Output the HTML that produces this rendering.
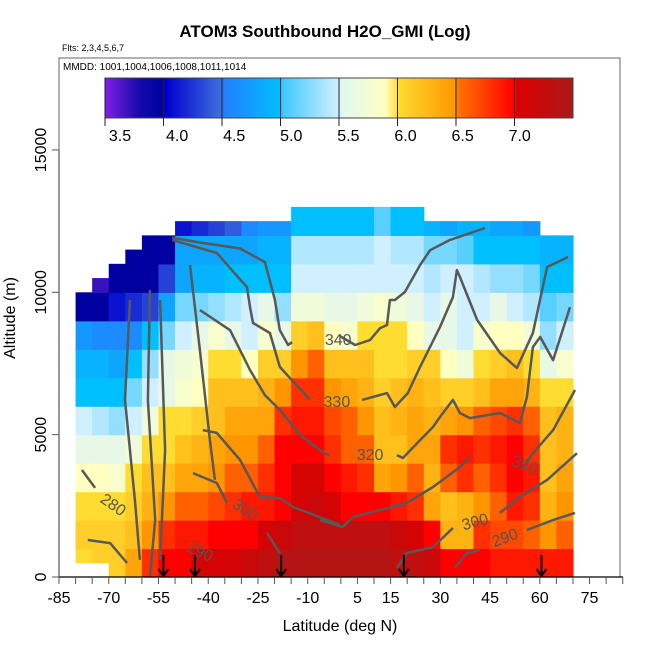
<!DOCTYPE html>
<html><head><meta charset="utf-8"><style>
body{margin:0;background:#fff;}
svg{display:block;font-family:"Liberation Sans",sans-serif;}
</style></head><body>
<svg id="chart" width="650" height="650" viewBox="0 0 650 650">
<text x="325" y="37" text-anchor="middle" font-size="17" font-weight="bold">ATOM3 Southbound H2O_GMI (Log)</text>
<text x="62" y="51" font-size="9">Flts: 2,3,4,5,6,7</text>
<g id="heat"></g>
<g id="contours"></g>
<g id="arrows"></g>
<rect x="59" y="58" width="561" height="519" fill="none" stroke="#666" stroke-width="1"/>
<text x="63" y="70" font-size="10">MMDD: 1001,1004,1006,1008,1011,1014</text>
<g id="cbar"></g>
<g id="axes"></g>
<text x="340" y="631" text-anchor="middle" font-size="16">Latitude (deg N)</text>
<text transform="translate(15,318) rotate(-90)" text-anchor="middle" font-size="16">Altitude (m)</text>
</svg>
<script>
const colStarts = [-80,-75,-70,-65,-60,-55,-50,-45,-40,-35,-30,-25,-20,-15,-10,-5,0,5,10,15,20,25,30,35,40,45,50,55,60,65];
const colTops = [10000,10500,11000,11500,12000,12000,12500,12500,12500,12500,12500,12500,12500,13000,13000,13000,13000,13000,13000,13000,13000,12500,12500,12500,12500,12500,12500,12500,12000,12000];
const colBottoms = [500,500,0,0,0,0,0,0,0,0,0,0,0,0,0,0,0,0,0,0,0,0,0,0,0,0,0,0,0,0];
const h2oValues = [
[6.0,6.1,6.0,5.9,5.6,5.5,5.0,4.9,4.7,4.0],
[6.1,6.1,6.0,5.9,5.6,5.4,5.0,4.9,4.6,4.0,3.7],
[6.1,6.1,6.0,5.8,5.6,5.3,5.0,4.8,4.6,4.1,4.0],
[6.4,6.2,6.1,6.0,5.7,5.5,5.2,5.0,4.6,4.2,4.0,4.0],
[6.8,6.5,6.3,6.2,6.0,5.7,5.5,5.3,5.0,4.3,4.0,4.0],
[7.0,6.8,6.5,6.2,6.0,6.0,5.6,5.6,5.2,4.8,4.3,4.0],
[7.0,6.9,6.6,6.4,6.2,6.0,5.8,5.7,5.5,5.2,4.8,4.8,4.1],
[7.1,6.9,6.6,6.4,6.3,6.1,5.9,5.8,5.6,5.2,4.9,4.8,4.2],
[7.1,7.0,6.7,6.5,6.4,6.2,6.2,6.0,5.8,5.3,4.9,4.8,4.3],
[7.1,7.0,6.8,6.6,6.5,6.4,6.2,6.0,5.6,5.4,5.0,4.8,4.4],
[7.2,7.0,6.9,6.6,6.5,6.4,6.2,5.9,5.5,5.5,5.0,4.8,4.6],
[7.3,7.1,6.9,6.8,6.6,6.4,6.3,6.1,5.8,5.6,5.0,4.9,4.7],
[7.4,7.2,7.0,7.0,7.0,6.8,6.5,6.1,5.6,5.3,5.0,4.9,4.7],
[7.4,7.3,7.1,7.1,7.0,6.9,6.8,6.5,6.1,5.7,5.5,5.4,5.0],
[7.4,7.3,7.2,7.1,7.0,6.9,6.8,6.6,6.2,5.7,5.5,5.4,5.0],
[7.4,7.3,7.1,7.0,6.8,6.7,6.5,6.2,5.9,5.6,5.5,5.4,5.0],
[7.4,7.3,7.0,6.9,6.6,6.6,6.4,6.2,5.8,5.6,5.5,5.4,5.0],
[7.4,7.3,7.0,6.8,6.6,6.5,6.3,6.2,6.0,5.7,5.5,5.4,5.0],
[7.4,7.3,7.0,6.4,6.2,6.2,6.1,6.0,6.0,5.8,5.5,5.5,5.1],
[7.3,7.2,6.9,6.5,6.2,6.3,6.2,6.0,6.0,5.7,5.5,5.4,5.0],
[7.3,7.1,6.8,6.6,6.4,6.4,6.3,6.1,5.9,5.6,5.5,5.4,5.0],
[7.2,7.0,6.4,6.3,6.4,6.3,6.2,6.1,5.6,5.5,5.4,5.2,4.9],
[7.0,6.3,6.2,6.6,6.8,6.4,6.1,5.9,5.6,5.6,5.5,5.2,4.8],
[7.0,6.3,6.3,6.8,6.9,6.5,6.1,5.7,5.5,5.5,5.5,5.1,4.9],
[7.0,6.8,6.5,6.6,6.8,6.6,6.2,6.0,5.8,5.5,5.4,5.0,4.9],
[6.9,6.7,6.6,6.8,6.9,6.7,6.4,6.1,5.9,5.6,5.3,5.0,4.8],
[6.9,6.7,6.9,7.0,7.0,6.8,6.4,6.2,5.9,5.5,5.3,5.0,4.8],
[6.9,6.6,6.8,6.9,6.8,6.6,6.3,6.0,5.7,5.4,5.2,5.0,4.7],
[6.9,6.5,6.3,6.2,6.2,6.2,6.0,5.6,5.3,5.1,5.0,4.9],
[6.9,6.6,6.5,6.4,6.3,6.3,6.0,5.8,5.5,5.2,5.0,4.9]
];
const xTickLabels = [-85,-70,-55,-40,-25,-10,5,15,30,45,60,75];
const yTickLabels = [0,5000,10000,15000];
const cbarTicks = [3.5,4.0,4.5,5.0,5.5,6.0,6.5,7.0];
const arrowLats = [-53.5,-44,-18,19,60.5];
// theta contour lines as [lat, altitude] pairs
const contourLines = [
 [[-50.9,11920],[-42.5,11750],[-30.4,11540],[-22.9,11060],[-19.9,9730],[-18.4,8670],[-15.9,8150],[-14.7,8250]],
 [[-0.3,8460],[4.3,8150],[8.8,8320],[11.8,8740],[13.9,8850],[14.8,9730],[16.3,9730],[19.3,10010],[23.9,10960],[26.9,11480],[32.9,11840],[43.5,12260]],
 [[-50.9,11840],[-37.4,11380],[-28.3,10180],[-27.4,9480],[-26.5,8920],[-21.4,8570],[-18.4,7380],[-9.3,6220]],
 [[6.4,6220],[13.9,6460],[16.3,5970],[20.2,6460],[23.9,7380],[29.9,8780],[33.8,9830],[35.0,10780],[35.9,10540],[41.1,9030],[48.0,7870],[53.1,7340],[57.9,8570],[62.2,10890],[68.5,11240]],
 [[-42.5,9380],[-33.4,8670],[-27.4,7270],[-22.9,6390],[-18.4,5870],[-12.3,4990],[-6.3,4460],[-3.5,4250]],
 [[16.9,4280],[18.7,4180],[23.9,4810],[27.8,5270],[29.9,5620],[33.8,6220],[35.9,5760],[38.9,5580],[48.0,5760],[54.0,5410],[56.1,6320],[57.9,8080],[60.1,8430],[64.0,7620],[69.1,9480]],
 [[-41.6,5160],[-37.4,5060],[-30.4,4110],[-24.4,2810],[-18.4,2770],[-14.4,2460],[-0.3,1830]],
 [[-6.3,2000],[0.6,1760],[3.7,2110],[11.8,2350],[19.9,2600],[27.8,3160],[35.9,3860],[38.9,4210]],
 [[54.6,3760],[57.9,4350],[64.0,5160],[70.6,6570]],
 [[48.0,2250],[54.0,2810],[62.2,3410],[71.2,4350]],
 [[-44.6,3650],[-37.4,3300],[-34.3,2600]],
 [[-22.3,1550],[-18.4,840]],
 [[34.4,320],[38.0,840],[41.9,950]],
 [[56.1,1650],[64.0,2000],[70.6,2250]],
 [[16.9,320],[19.9,840],[27.8,1050],[33.8,1720]],
 [[-78.1,3760],[-74.1,3130]],
 [[-76.3,1300],[-69.6,1190],[-64.5,490]],
 [[-63.6,9730],[-65.1,6220],[-62.1,2700],[-60.6,600]],
 [[-57.6,10080],[-58.2,6220],[-56.0,2000],[-57.6,0]],
 [[-54.5,9730],[-53.0,4460],[-54.5,600]],
 [[-45.5,10960],[-42.5,7970],[-39.5,4810],[-38.0,3410]]
];
const contourLabels = [
 ["340",-0.8,8320,0],["330",-1.2,6150,0],["320",8.8,4280,0],["310",55.5,3930,20],
 ["300",-28.9,2350,35],["300",40.5,1930,-15],["290",49.5,1370,-20],["290",-42.5,880,25],["280",-68.7,2530,35]
];
const NS='http://www.w3.org/2000/svg';
const xS = lat => 59 + (lat + 85) * 3.316;
const yS = alt => 577 - alt * 0.02847;
const stops = [[3.5,[128,32,232]],[3.8,[20,10,170]],[4.0,[0,0,160]],[4.02,[0,0,205]],[4.5,[64,112,224]],[4.52,[32,128,255]],[5.0,[0,191,255]],[5.02,[64,200,255]],[5.5,[208,240,255]],[5.52,[224,248,240]],[5.9,[255,255,192]],[6.0,[255,220,50]],[6.5,[255,150,0]],[6.52,[255,115,0]],[7.0,[255,0,0]],[7.02,[220,0,0]],[7.5,[170,25,25]]];
function color(v){
  if(v<=stops[0][0]) return 'rgb('+stops[0][1]+')';
  for(let i=1;i<stops.length;i++){
    if(v<=stops[i][0]){const a=stops[i-1],b=stops[i],t=(v-a[0])/(b[0]-a[0]);
      return 'rgb('+a[1].map((c,k)=>Math.round(c+(b[1][k]-c)*t)).join(',')+')';}
  }
  return 'rgb('+stops[stops.length-1][1]+')';
}
function mk(tag,attrs,parent){const e=document.createElementNS(NS,tag);for(const k in attrs)e.setAttribute(k,attrs[k]);parent.appendChild(e);return e;}
const heat=document.getElementById('heat');
colStarts.forEach((lat,i)=>{
  const vals=h2oValues[i];
  vals.forEach((v,r)=>{
    const a0=Math.max(r*1000,colBottoms[i]);
    const a1=Math.min((r+1)*1000,colTops[i]);
    if(a1<=a0) return;
    const x0=xS(lat),x1=xS(lat+5);
    const c=mk('rect',{x:x0.toFixed(2),y:yS(a1).toFixed(2),width:(x1-x0+0.6).toFixed(2),height:(yS(a0)-yS(a1)+0.6).toFixed(2),fill:color(v)},heat);
    
    
  });
});
const cg=document.getElementById('contours');
contourLines.forEach(line=>{
  const p=mk('polyline',{points:line.map(q=>xS(q[0]).toFixed(1)+','+yS(q[1]).toFixed(1)).join(' '),fill:'none',stroke:'#585858','stroke-width':2.5,'stroke-linejoin':'round'},cg);
  
  
});
contourLabels.forEach(l=>{
  const x=xS(l[1]),y=yS(l[2]);
  const t=mk('text',{x:x,y:y+5,'font-size':16,fill:'#555','text-anchor':'middle',transform:'rotate('+l[3]+' '+x+' '+y+')'},cg);
  t.textContent=l[0];
  
  
});
const ag=document.getElementById('arrows');
arrowLats.forEach(lat=>{
  const x=xS(lat);
  const g=mk('g',{},ag);
  
  
  mk('line',{x1:x,y1:555,x2:x,y2:576,stroke:'#000','stroke-width':2},g);
  mk('polyline',{points:(x-5)+',569 '+x+',576 '+(x+5)+',569',fill:'none',stroke:'#000','stroke-width':2},g);
});
const cb=document.getElementById('cbar');
const cbX0=105,cbX1=573,cbY0=78,cbY1=118;
const cbVal = x => 3.5 + (x-cbX0)/(cbX1-cbX0)*4;
for(let x=cbX0;x<cbX1;x+=1){
  const r=mk('rect',{x:x,y:cbY0,width:1.2,height:cbY1-cbY0,fill:color(cbVal(x+0.5))},cb);
  
  
}
mk('rect',{x:cbX0,y:cbY0,width:cbX1-cbX0,height:cbY1-cbY0,fill:'none',stroke:'#444','stroke-width':1},cb);
cbarTicks.forEach((v,i)=>{
  const x=cbX0+(v-3.5)/4*(cbX1-cbX0);
  mk('line',{x1:x,y1:cbY0,x2:x,y2:cbY1+8,stroke:'#222','stroke-width':1},cb);
  const t=mk('text',{x:120+i*57.1,y:141,'font-size':16,'text-anchor':'middle'},cb);
  t.textContent=v.toFixed(1);
  
  
});
const ax=document.getElementById('axes');
mk('line',{x1:59,y1:577,x2:623,y2:577,stroke:'#000','stroke-width':1.2},ax);
for(let lat=-85;lat<=85;lat+=5){mk('line',{x1:xS(lat),y1:577,x2:xS(lat),y2:584,stroke:'#555','stroke-width':1},ax);}
xTickLabels.forEach(v=>{
  const t=mk('text',{x:xS(v),y:603,'font-size':16,'text-anchor':'middle'},ax);
  t.textContent=v;
  
  
});
mk('line',{x1:59,y1:yS(0),x2:59,y2:yS(15000),stroke:'#555','stroke-width':1.2},ax);
yTickLabels.forEach(v=>{
  const y=yS(v);
  mk('line',{x1:52,y1:y,x2:59,y2:y,stroke:'#555','stroke-width':1},ax);
  const t=mk('text',{x:46,y:y,'font-size':16,'text-anchor':'middle',transform:'rotate(-90 46 '+y+')'},ax);
  t.textContent=v;
  
  
});
</script>
</body></html>
